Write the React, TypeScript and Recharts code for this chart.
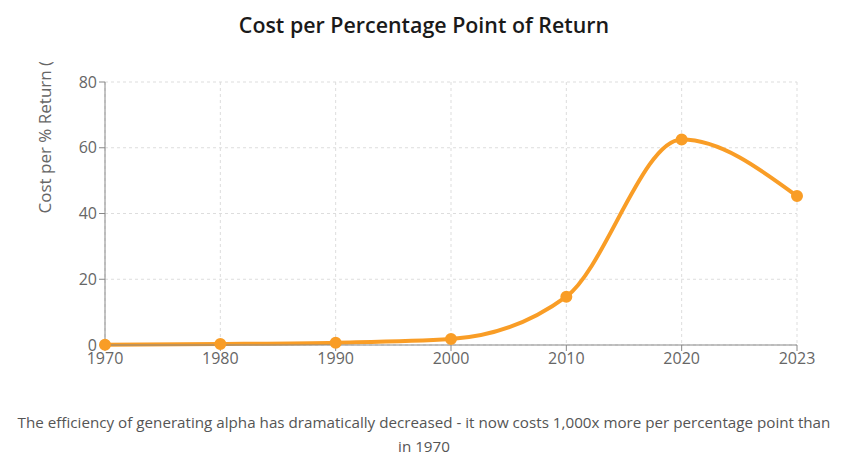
import React from 'react';
import { LineChart, Line, XAxis, YAxis, CartesianGrid } from 'recharts';

const years = ['1970', '1980', '1990', '2000', '2010', '2020', '2023'];
const costPerPoint = [0.1, 0.3, 0.7, 1.8, 14.7, 62.5, 45.3];
const yTicks = [0, 20, 40, 60, 80];

const data = years.map((y, i) => ({ year: y, cost: costPerPoint[i] }));

const ORANGE = '#f99d26';

export default function App() {
  return (
    <div style={{ width: 832, fontFamily: '"Open Sans", sans-serif' }}>
      <div
        style={{
          height: 54,
          lineHeight: '34px',
          textAlign: 'center',
          fontSize: 21.4,
          fontWeight: 600,
          color: '#1a1a1a',
        }}
      >
        Cost per Percentage Point of Return
      </div>
      <LineChart width={832} height={320} data={data} margin={{ top: 20, right: 43, bottom: 7, left: 32 }}>
        <CartesianGrid stroke="#dddddd" strokeDasharray="3 3" />
        <XAxis
          dataKey="year"
          stroke="#888"
          tick={{ fill: '#666', fontSize: 16 }}
          interval={0}
        />
        <YAxis
          width={65}
          domain={[0, 80]}
          ticks={yTicks}
          stroke="#888"
          tick={{ fill: '#666', fontSize: 16 }}
          label={{ value: 'Cost per % Return ($)', angle: -90, position: 'insideLeft', fill: '#666', fontSize: 17 }}
        />
        <Line
          type="monotone"
          dataKey="cost"
          stroke={ORANGE}
          strokeWidth={4}
          dot={{ r: 5, fill: ORANGE, stroke: ORANGE, strokeWidth: 2 }}
          isAnimationActive={false}
        />
      </LineChart>
      <div
        style={{
          marginTop: 28,
          padding: '0 6px',
          textAlign: 'center',
          fontSize: 15.2,
          lineHeight: '24px',
          color: '#555',
        }}
      >
        The efficiency of generating alpha has dramatically decreased - it now costs 1,000x more per percentage point than in 1970
      </div>
    </div>
  );
}
